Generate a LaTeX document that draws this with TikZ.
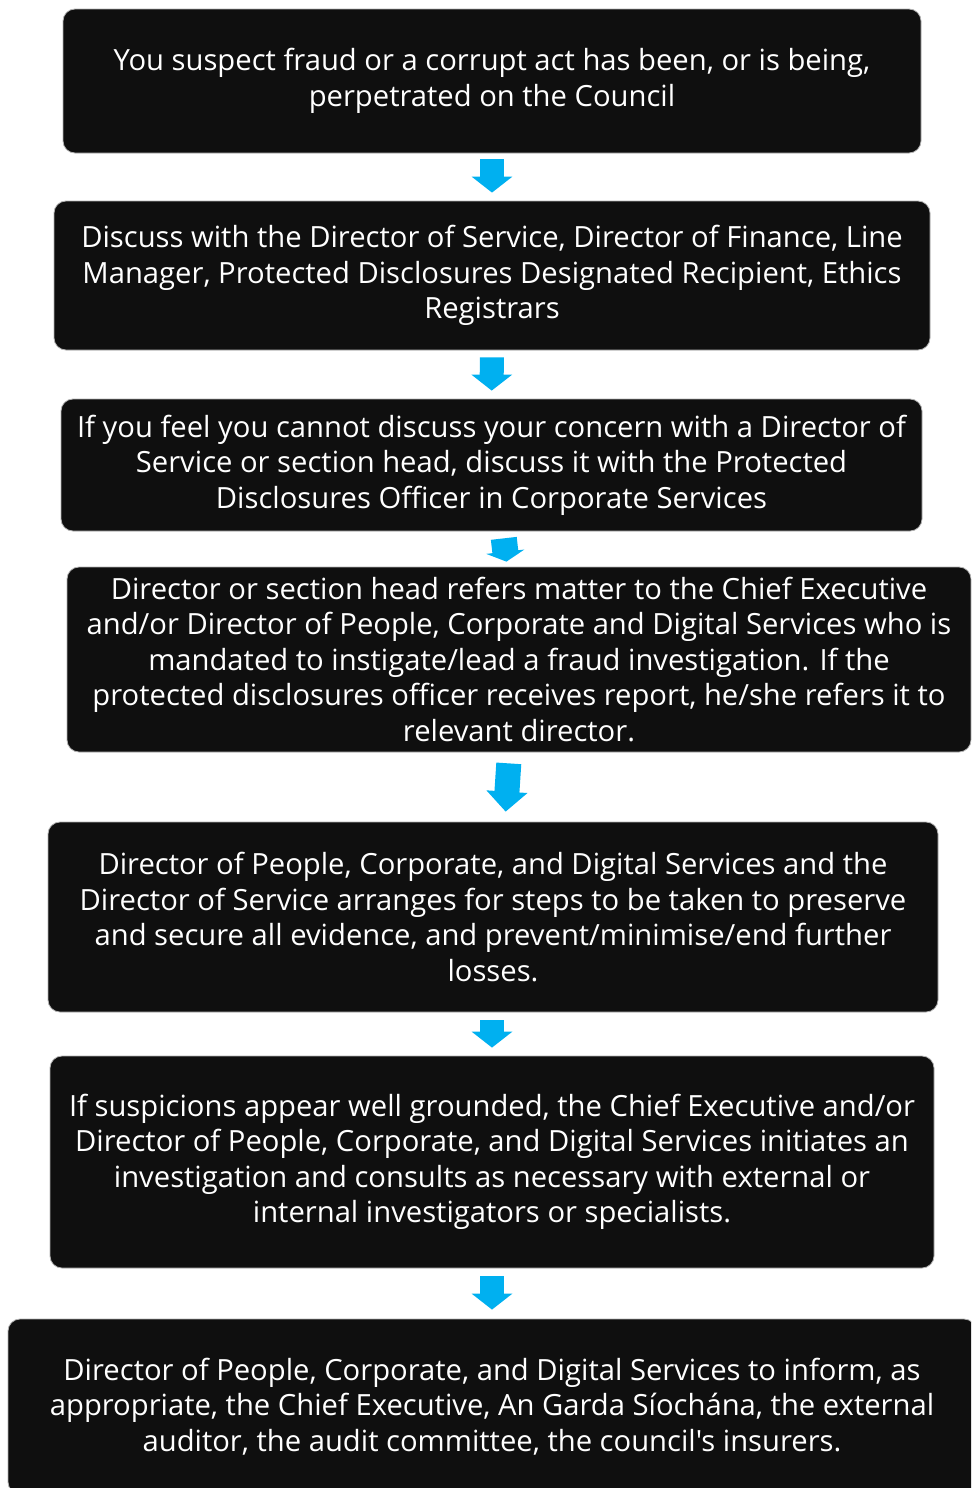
\documentclass[tikz,border=0pt]{standalone}
\usepackage{fontspec}
\setmainfont{Open Sans}[Ligatures=TeXOff]
\usetikzlibrary{arrows.meta, positioning}
\definecolor{boxblack}{HTML}{0F0F0F}
\definecolor{arrowblue}{HTML}{00B0F0}
\tikzstyle{stage} = [rectangle, rounded corners=6pt, draw=gray!60, line width=0.4pt, fill=boxblack, text=white, align=center, font=\fontsize{14.6}{17.75}\selectfont, inner sep=0pt]
\tikzstyle{flow} = [draw=arrowblue, line width=12pt, -{Triangle[width=20pt,length=8pt,fill=arrowblue]}]

\begin{document}
\begin{tikzpicture}[x=0.5pt,y=-0.5pt]
\clip (0,0) rectangle (971,1488);
\fill[white] (0,0) rectangle (971,1488);

% Report
\node (report) [stage, minimum width=429pt, minimum height=72pt] at (492,81) {You suspect fraud or a corrupt act has been, or is being,\\perpetrated on the Council};

% Discuss
\node (discuss) [stage, minimum width=438pt, minimum height=74.5pt] at (492,275.5) {Discuss with the Director of Service, Director of Finance, Line\\Manager, Protected Disclosures Designated Recipient, Ethics\\Registrars};

% Protected disclosures officer
\node (officer) [stage, minimum width=430.5pt, minimum height=66pt] at (491.5,465) {If you feel you cannot discuss your concern with a Director of\\Service or section head, discuss it with the Protected\\Disclosures Officer in Corporate Services};

% Referral
\node (refer) [stage, minimum width=452pt, minimum height=92.5pt] at (519,659.5) {Director or section head refers matter to the Chief Executive\\and/or Director of People, Corporate and Digital Services who is\\mandated to instigate/lead a fraud investigation. If the\\protected disclosures officer receives report, he/she refers it to\\relevant director.};

% Evidence
\node (evidence) [stage, minimum width=445pt, minimum height=95pt] at (493,917) {Director of People, Corporate, and Digital Services and the\\Director of Service arranges for steps to be taken to preserve\\and secure all evidence, and prevent/minimise/end further\\losses.};

% Investigation
\node (investigate) [stage, minimum width=442pt, minimum height=106pt] at (492,1162) {If suspicions appear well grounded, the Chief Executive and/or\\Director of People, Corporate, and Digital Services initiates an\\investigation and consults as necessary with external or\\internal investigators or specialists.};

% Inform
\node (inform) [stage, minimum width=484pt, minimum height=87.5pt] at (492,1406.5) {Director of People, Corporate, and Digital Services to inform, as\\appropriate, the Chief Executive, An Garda Síochána, the external\\auditor, the audit committee, the council's insurers.};

% Arrows
\draw [flow, shorten <=3pt, shorten >=4pt] (report) -- (discuss);
\draw [flow, shorten <=3.5pt, shorten >=4pt] (discuss) -- (officer);
\draw [flow, line width=13pt, -{Triangle[width=19pt,length=5pt,fill=arrowblue]}, shorten <=3.5pt, shorten >=2.5pt] ([xshift=5.75pt]officer.south) -- ([xshift=-6pt]refer.north);
\draw [flow, line width=12.5pt, -{Triangle[width=20pt,length=10pt,fill=arrowblue]}, shorten <=5.5pt, shorten >=5pt] ([xshift=-4.75pt]refer.south) -- ([xshift=6pt]evidence.north);
\draw [flow, shorten <=4pt, shorten >=4pt] ([xshift=-0.5pt]evidence.south) -- (investigate.north);
\draw [flow, shorten <=4pt, shorten >=4.5pt] (investigate) -- (inform);

\end{tikzpicture}
\end{document}
